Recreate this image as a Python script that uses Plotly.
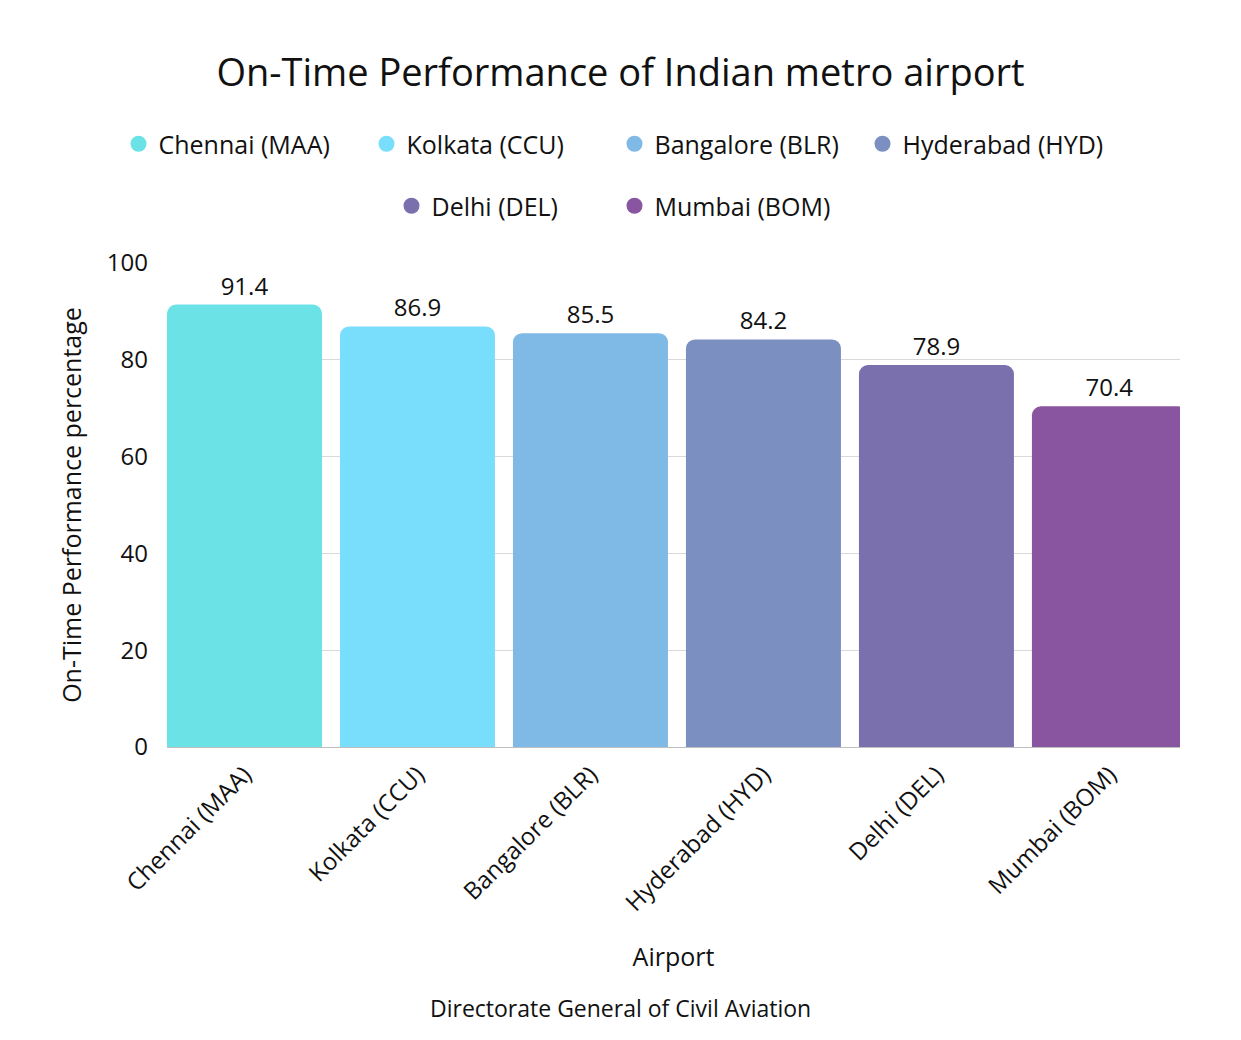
import plotly.graph_objects as go

airports = ["Chennai (MAA)", "Kolkata (CCU)", "Bangalore (BLR)", "Hyderabad (HYD)", "Delhi (DEL)", "Mumbai (BOM)"]
otp = [91.4, 86.9, 85.5, 84.2, 78.9, 70.4]
colors = ["#6BE3E6", "#79DEFC", "#7FB9E6", "#7B8FC0", "#7A70AE", "#8A55A0"]
yticks = [0, 20, 40, 60, 80, 100]

FONT = "Open Sans"
pos = list(range(len(airports)))

W, H = 1241, 1040
L, R, T, B = 167, 61, 263, 293
PW, PH = W - L - R, H - T - B

fig = go.Figure()
fig.add_trace(go.Bar(
    x=pos, y=otp, width=0.896,
    marker=dict(color=colors, line=dict(width=0)),
    text=[f"{v:.1f}" for v in otp], textposition="outside",
    textfont=dict(size=24, color="#111111", family=FONT),
    showlegend=False, hoverinfo="skip",
))

for i, (name, c) in enumerate(zip(airports, colors)):
    fig.add_trace(go.Scatter(
        x=[None], y=[None], mode="markers", name=name,
        marker=dict(color=c, size=24, symbol="circle"),
        legend="legend" if i < 4 else "legend2",
    ))

fig.update_layout(
    width=W, height=H,
    margin=dict(l=L, r=R, t=T, b=B),
    paper_bgcolor="white", plot_bgcolor="white",
    font=dict(family=FONT, color="#111111"),
    barcornerradius=9,
    title=dict(text="On-Time Performance of Indian metro airport",
               x=0.5, xanchor="center", y=1 - 73 / H, yanchor="middle",
               yref="container", font=dict(size=38, family=FONT, color="#111111")),
    legend=dict(orientation="h", x=0.5 - 6 / W, xanchor="center", xref="container",
                y=1 - 144 / H, yanchor="middle", yref="container",
                font=dict(size=25, family=FONT), itemwidth=30,
                entrywidth=203, entrywidthmode="pixels",
                traceorder="normal"),
    legend2=dict(orientation="h", x=0.5 - 6 / W, xanchor="center", xref="container",
                 y=1 - 206 / H, yanchor="middle", yref="container",
                 font=dict(size=25, family=FONT), itemwidth=30,
                 entrywidth=178, entrywidthmode="pixels",
                 traceorder="normal"),
    xaxis=dict(range=[-0.448, 5.408], tickvals=pos, ticktext=airports,
               tickangle=-45, tickfont=dict(size=24, family=FONT),
               showgrid=False, zeroline=False, showline=False, ticks="",
               ticklabelstandoff=8,
               title=dict(text="Airport", font=dict(size=25, family=FONT), standoff=31),
               fixedrange=True),
    yaxis=dict(range=[0, 100], tickvals=yticks, tickfont=dict(size=24, family=FONT),
               showgrid=True, gridcolor="#D9D9D9", gridwidth=1,
               zeroline=True, zerolinecolor="#BFBFBF", zerolinewidth=1,
               showline=False, ticks="", ticklabelstandoff=18,
               title=dict(text="On-Time Performance percentage",
                          font=dict(size=25, family=FONT), standoff=18),
               fixedrange=True),
    annotations=[dict(text="Directorate General of Civil Aviation",
                      x=(W / 2 - L) / PW, xref="paper", xanchor="center",
                      y=(H - B - 1008) / PH, yref="paper", yanchor="middle",
                      showarrow=False, font=dict(size=23, family=FONT, color="#111111"))],
)

fig.write_html("out.html")
